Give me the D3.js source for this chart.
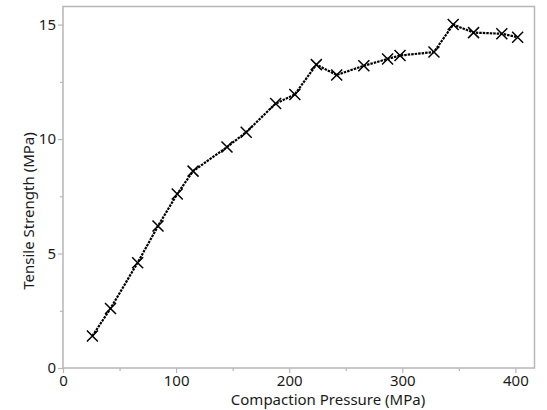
<!DOCTYPE html>
<html>
<head>
<meta charset="utf-8">
<script src="https://cdn.jsdelivr.net/npm/d3@7/dist/d3.min.js"></script>
<style>
  html, body { margin: 0; padding: 0; background: #fff; }
  svg { display: block; font-family: "Noto Sans", "Open Sans", sans-serif; }
</style>
</head>
<body>
<svg id="chart" width="547" height="410"></svg>
<script>
// Compaction pressure (MPa) and resulting tensile strength (MPa)
const pressure = [26, 42, 66, 84, 101, 115, 145, 162, 188, 205, 224, 242, 266, 287, 298, 328, 345, 363, 388, 402];
const strength = [1.4, 2.6, 4.6, 6.2, 7.6, 8.6, 9.65, 10.3, 11.55, 11.95, 13.25, 12.8, 13.2, 13.5, 13.65, 13.8, 15.0, 14.65, 14.6, 14.45];

const xMajorTicks = [0, 100, 200, 300, 400];
const xMinorTicks = [50, 150, 250, 350];
const yMajorTicks = [0, 5, 10, 15];
const yMinorTicks = [2.5, 7.5, 12.5];

const xTitle = "Compaction Pressure (MPa)";
const yTitle = "Tensile Strength (MPa)";

const W = 547, H = 410;
const margin = { top: 6.5, right: 12.5, bottom: 42, left: 63 };
const iw = W - margin.left - margin.right;
const ih = H - margin.top - margin.bottom;

const svg = d3.select("#chart");
const g = svg.append("g").attr("transform", `translate(${margin.left},${margin.top})`);

const x = d3.scaleLinear().domain([0, 416.9]).range([0, iw]);
const y = d3.scaleLinear().domain([0, 15.79]).range([ih, 0]);

const frameColor = "#b7b7b7";
const textColor = "#1a1a1a";

// plot frame
g.append("rect")
  .attr("x", 0).attr("y", 0)
  .attr("width", iw).attr("height", ih)
  .attr("fill", "none")
  .attr("stroke", frameColor)
  .attr("stroke-width", 1.5);

// x axis: major ticks with labels, minor ticks without
g.append("g").attr("transform", `translate(0,${ih})`)
  .call(d3.axisBottom(x).tickValues(xMajorTicks).tickSize(5).tickPadding(2).tickFormat(d3.format("d")));
g.append("g").attr("transform", `translate(0,${ih})`)
  .call(d3.axisBottom(x).tickValues(xMinorTicks).tickSize(3).tickFormat(""));

// y axis
g.append("g")
  .call(d3.axisLeft(y).tickValues(yMajorTicks).tickSize(5).tickPadding(2).tickFormat(d3.format("d")));
g.append("g")
  .call(d3.axisLeft(y).tickValues(yMinorTicks).tickSize(3).tickFormat(""));

g.selectAll(".domain").remove();
g.selectAll(".tick line").attr("stroke", frameColor).attr("stroke-width", 1.2);
g.selectAll(".tick text")
  .attr("fill", textColor)
  .style("font-size", "15px")
  .style("font-family", "\"Noto Sans\", \"Open Sans\", sans-serif");

// axis titles
svg.append("text")
  .attr("x", 328)
  .attr("y", 405)
  .attr("text-anchor", "middle")
  .attr("fill", textColor)
  .style("font-size", "15px")
  .text(xTitle);

svg.append("text")
  .attr("transform", `translate(34,211) rotate(-90)`)
  .attr("text-anchor", "middle")
  .attr("fill", textColor)
  .style("font-size", "15px")
  .text(yTitle);

// data line (dotted)
const pts = pressure.map((p, i) => [p, strength[i]]);
g.append("path")
  .datum(pts)
  .attr("fill", "none")
  .attr("stroke", "#000")
  .attr("stroke-width", 2.2)
  .attr("stroke-dasharray", "2.5,1")
  .attr("d", d3.line().x(d => x(d[0])).y(d => y(d[1])));

// X markers
const s = 5.5;
g.selectAll("path.marker")
  .data(pts)
  .join("path")
  .attr("class", "marker")
  .attr("transform", d => `translate(${x(d[0])},${y(d[1])})`)
  .attr("d", `M${-s},${-s}L${s},${s}M${-s},${s}L${s},${-s}`)
  .attr("stroke", "#000")
  .attr("stroke-width", 1.5)
  .attr("fill", "none");
</script>
</body>
</html>
